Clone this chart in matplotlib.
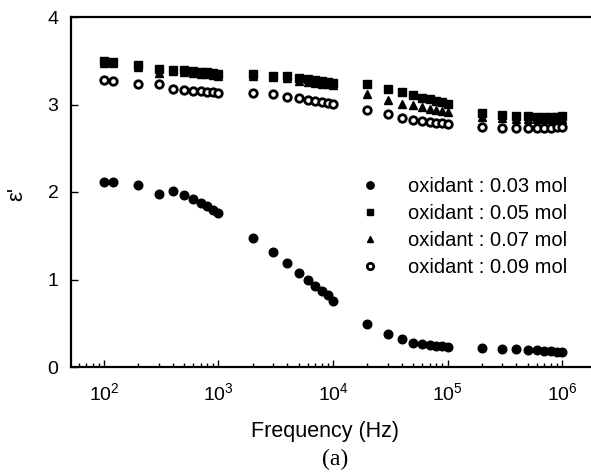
import numpy as np
import matplotlib
matplotlib.use("Agg")
import matplotlib.pyplot as plt

plt.rcParams['font.family'] = ['Liberation Sans', 'DejaVu Sans']
plt.rcParams['mathtext.fontset'] = 'custom'
plt.rcParams['mathtext.rm'] = 'Liberation Sans'
plt.rcParams['mathtext.it'] = 'Liberation Sans:italic'

# frequencies (Hz)
freq = [100, 120, 200, 300, 400, 500, 600, 700, 800, 900,
        1e3, 2e3, 3e3, 4e3, 5e3, 6e3, 7e3, 8e3, 9e3,
        1e4, 2e4, 3e4, 4e4, 5e4, 6e4, 7e4, 8e4, 9e4,
        1e5, 2e5, 3e5, 4e5, 5e5, 6e5, 7e5, 8e5, 9e5, 1e6]

eps_003 = [2.11, 2.11, 2.08, 1.98, 2.01, 1.97, 1.92, 1.88, 1.84, 1.80,
           1.76, 1.48, 1.32, 1.19, 1.08, 1.00, 0.93, 0.87, 0.82,
           0.76, 0.49, 0.375, 0.32, 0.28, 0.265, 0.25, 0.24, 0.235,
           0.23, 0.215, 0.21, 0.205, 0.20, 0.19, 0.185, 0.18, 0.175, 0.17]

eps_005 = [3.50, 3.49, 3.45, 3.41, 3.40, 3.39, 3.38, 3.37, 3.37, 3.36,
           3.35, 3.345, 3.33, 3.325, 3.30, 3.29, 3.28, 3.27, 3.26,
           3.25, 3.23, 3.18, 3.14, 3.11, 3.08, 3.06, 3.04, 3.025,
           3.005, 2.90, 2.88, 2.87, 2.87, 2.86, 2.86, 2.86, 2.86, 2.87]

eps_007 = [3.48, 3.47, 3.43, 3.36, 3.38, 3.37, 3.36, 3.35, 3.35, 3.34,
           3.33, 3.33, 3.31, 3.30, 3.27, 3.26, 3.25, 3.24, 3.23,
           3.22, 3.12, 3.05, 3.01, 2.99, 2.97, 2.95, 2.94, 2.925,
           2.91, 2.86, 2.85, 2.84, 2.84, 2.83, 2.83, 2.83, 2.83, 2.84]

eps_009 = [3.28, 3.27, 3.24, 3.24, 3.18, 3.17, 3.155, 3.15, 3.14, 3.14,
           3.13, 3.13, 3.115, 3.09, 3.07, 3.05, 3.04, 3.03, 3.02,
           3.01, 2.94, 2.89, 2.85, 2.82, 2.81, 2.80, 2.79, 2.785,
           2.775, 2.745, 2.735, 2.73, 2.73, 2.73, 2.73, 2.735, 2.74, 2.745]

labels = ["oxidant : 0.03 mol", "oxidant : 0.05 mol",
          "oxidant : 0.07 mol", "oxidant : 0.09 mol"]

W, H = 591, 474
fig = plt.figure(figsize=(W / 100, H / 100), dpi=100)
ax = fig.add_axes([71 / W, (H - 367) / H, (W - 71) / W, (367 - 17) / H])

ax.plot(freq, eps_003, 'o', color='black', ms=6.2, label=labels[0])
ax.plot(freq, eps_005, 's', color='black', ms=5.4, label=labels[1])
ax.plot(freq, eps_007, '^', color='black', ms=5.4, label=labels[2])
ax.plot(freq, eps_009, 'o', mfc='white', mec='black', mew=2.0, ms=5.4, label=labels[3])

ax.set_xscale('log')
ax.set_xlim(10 ** 1.712, 10 ** 6.253)
ax.set_ylim(0, 4)
ax.set_yticks([0, 1, 2, 3, 4])
ax.set_xticks([1e2, 1e3, 1e4, 1e5, 1e6])

ax.spines['right'].set_visible(False)
for s in ['left', 'bottom', 'top']:
    ax.spines[s].set_linewidth(1.6)
ax.tick_params(which='both', direction='in', top=False, right=False, labelsize=14)
ax.tick_params(axis='x', which='major', length=5, width=1, pad=11)
ax.tick_params(axis='y', which='major', length=5, width=1, pad=9)
ax.tick_params(which='minor', length=3, width=1)

fig.text(17 / W, 1 - 194 / H, "ε'", fontsize=16, rotation=90, ha='center', va='center')
fig.text(325 / W, 1 - 432 / H, "Frequency (Hz)", fontsize=15.5, ha='center', va='center')
fig.text(335 / W, 1 - 459 / H, "(a)", fontsize=17, ha='center', va='center',
         family=['Liberation Serif', 'DejaVu Serif'])

ax.legend(loc='upper left', bbox_to_anchor=(348 / W, 1 - 167 / H),
          bbox_transform=fig.transFigure, frameon=False, fontsize=14.5,
          handletextpad=1.3, labelspacing=0.4, markerscale=0.85,
          handlelength=1.2, borderpad=0)

fig.savefig("out.png", dpi=100)
